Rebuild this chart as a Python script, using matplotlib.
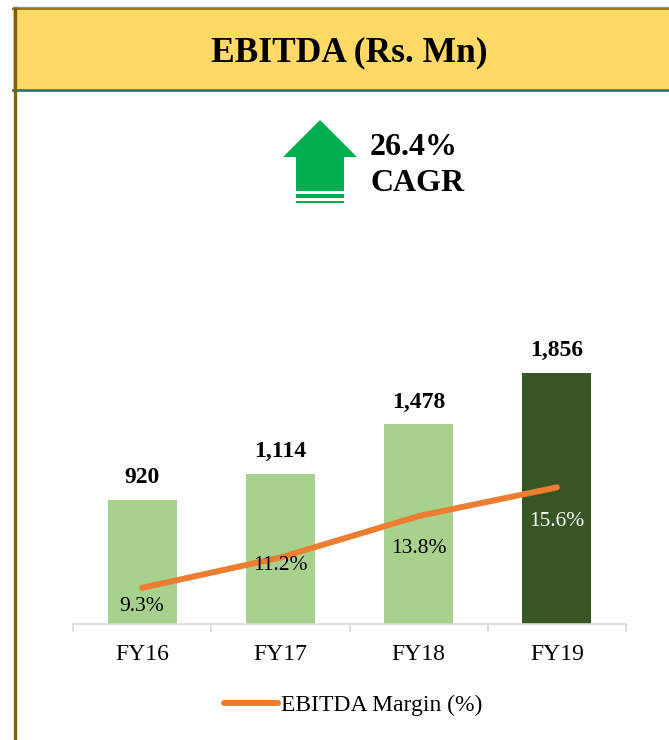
import matplotlib
matplotlib.use("Agg")
import matplotlib.pyplot as plt
from matplotlib.patches import Rectangle, Polygon

plt.rcParams["font.family"] = ["Liberation Serif", "DejaVu Serif"]

years = ["FY16", "FY17", "FY18", "FY19"]
ebitda = [920, 1114, 1478, 1856]
margin = [9.3, 11.2, 13.8, 15.6]
cagr_text = "26.4%"

bar_colors = ["#A9D18E", "#A9D18E", "#A9D18E", "#375623"]
margin_label_colors = ["black", "black", "black", "white"]
# how far each margin label sits below its point, pixels
margin_label_drop = [19, 8, 32, 34]

W, H = 669, 740
fig = plt.figure(figsize=(W / 100, H / 100), dpi=100)

# background layer in pixel coords for header, border and arrow
bg = fig.add_axes([0, 0, 1, 1])
bg.set_xlim(0, W)
bg.set_ylim(H, 0)
bg.axis("off")

bg.add_patch(Rectangle((13, 8), W - 13, 81, facecolor="#FFD966", edgecolor="none"))
bg.plot([13, W], [6.5, 6.5], color="#8497B0", lw=1)
bg.plot([13, W], [8.5, 8.5], color="#9C7A1C", lw=1.5)
bg.plot([13, W], [89.5, 89.5], color="#3F63AD", lw=2)
bg.plot([14.5, 14.5], [7, H], color="#7F6000", lw=2.4, solid_capstyle="butt")
bg.text(349, 61, "EBITDA (Rs. Mn)", fontsize=25.5, fontweight="bold",
        ha="center", va="baseline")

green = "#00B050"
bg.add_patch(Polygon([(320, 120), (357, 157), (344, 157), (344, 191),
                      (296, 191), (296, 157), (283, 157)],
                     closed=True, facecolor=green, edgecolor="none"))
bg.add_patch(Rectangle((296, 194), 48, 4.3, facecolor=green, edgecolor="none"))
bg.add_patch(Rectangle((296, 200.7), 48, 2.6, facecolor=green, edgecolor="none"))
bg.text(370, 155, cagr_text, fontsize=23, fontweight="bold", va="baseline")
bg.text(370, 191, "CAGR", fontsize=23, fontweight="bold", va="baseline")

# chart axes
ax_bottom = 624
ax_top = 110
ax = fig.add_axes([73 / W, (H - ax_bottom) / H, (626 - 73) / W, (ax_bottom - ax_top) / H])
ax.patch.set_alpha(0)
x = list(range(len(years)))
bars = ax.bar(x, ebitda, width=0.5, color=bar_colors, zorder=2)
ax.set_xlim(-0.5, len(years) - 0.5)
ax.set_ylim(0, (ax_bottom - ax_top) / 0.135)
for s in ["top", "right", "left"]:
    ax.spines[s].set_visible(False)
ax.spines["bottom"].set_color("#D9D9D9")
ax.spines["bottom"].set_linewidth(1.2)
ax.set_yticks([])
ax.set_xticks(x)
ax.set_xticklabels(years, fontsize=17)
ax.tick_params(axis="x", which="major", length=0, pad=14.5)
ax.set_xticks([i - 0.5 for i in range(len(years) + 1)], minor=True)
ax.tick_params(axis="x", which="minor", length=5.5, width=1.2, color="#D9D9D9")

for xi, v in zip(x, ebitda):
    ax.annotate(f"{v:,}", (xi, v), xytext=(0, 17), textcoords="offset pixels",
                ha="center", va="baseline", fontsize=17, fontweight="bold")

ax2 = ax.twinx()
ax2.set_ylim(7.03, 39.27)
ax2.axis("off")
ax2.plot(x, margin, color="#ED7D31", lw=4.3, solid_capstyle="round",
         label="EBITDA Margin (%)", zorder=3)
for xi, m, c, d in zip(x, margin, margin_label_colors, margin_label_drop):
    ax2.annotate(f"{m}%", (xi, m), xytext=(0, -d), textcoords="offset pixels",
                 ha="center", va="center", fontsize=15.5, color=c, zorder=4)

fig.legend(loc="center", bbox_to_anchor=(353.5 / W, (H - 705) / H),
           frameon=False, fontsize=17, handlelength=2.25, handletextpad=0.15)

fig.savefig("out.png", dpi=100)
